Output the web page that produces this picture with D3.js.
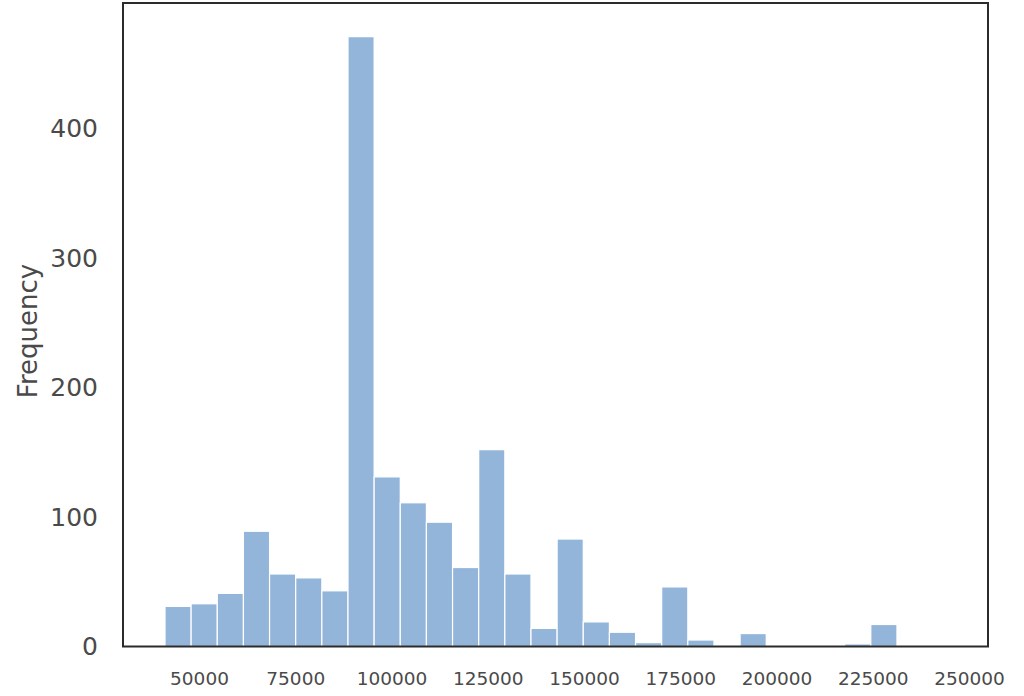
<!DOCTYPE html>
<html>
<head>
<meta charset="utf-8">
<script src="https://cdn.jsdelivr.net/npm/d3@7"></script>
<style>
  body { margin: 0; background: #fff; }
  text { font-family: "DejaVu Sans", sans-serif; }
</style>
</head>
<body>
<svg id="chart"></svg>
<script>
// histogram bin edges (salary) and counts per bin
var binEdges = [41169, 47959, 54749, 61539, 68329, 75119, 81909, 88699, 95489,
                102279, 109069, 115859, 122649, 129439, 136229, 143019, 149809,
                156599, 163389, 170179, 176969, 183759, 190549, 197339, 204129,
                210919, 217709, 224499, 231289];
var counts = [31, 33, 41, 89, 56, 53, 43, 471, 131, 111, 96, 61, 152, 56,
              14, 83, 19, 11, 3, 46, 5, 0, 10, 0, 0, 0, 2, 17];
var xTicks = [50000, 75000, 100000, 125000, 150000, 175000, 200000, 225000, 250000];
var yTicks = [0, 100, 200, 300, 400];

var width = 1024, height = 696;
// plot frame (window.top is reserved, so use plot* names)
var plotLeft = 123, plotRight = 988, plotTop = 3, plotBottom = 646.5;

var svg = d3.select("#chart")
    .attr("width", width)
    .attr("height", height);

var x = d3.scaleLinear().domain([30260, 254935]).range([plotLeft, plotRight]);
var y = d3.scaleLinear().domain([0, 497]).range([plotBottom, plotTop]);

// build bins from edges + counts
var bins = counts.map(function(c, i) {
    return { x0: binEdges[i], x1: binEdges[i + 1], n: c };
});

svg.append("g")
   .selectAll("rect")
   .data(bins.filter(function(d) { return d.n > 0; }))
   .enter().append("rect")
   .attr("x", function(d) { return x(d.x0); })
   .attr("width", function(d) { return x(d.x1) - x(d.x0); })
   .attr("y", function(d) { return y(d.n); })
   .attr("height", function(d) { return y(0) - y(d.n); })
   .attr("fill", "#93b5da")
   .attr("stroke", "#ffffff")
   .attr("stroke-width", 1.2);

// axes, no tick marks (seaborn white style)
var xAxis = svg.append("g")
   .attr("transform", "translate(0," + plotBottom + ")")
   .call(d3.axisBottom(x).tickValues(xTicks).tickSize(0).tickPadding(25).tickFormat(d3.format("d")));
xAxis.select(".domain").remove();
xAxis.selectAll("text")
   .attr("fill", "#4a4a4a")
   .style("font-size", "18.5px");

var yAxis = svg.append("g")
   .attr("transform", "translate(" + plotLeft + ",0)")
   .call(d3.axisLeft(y).tickValues(yTicks).tickSize(0).tickPadding(25));
yAxis.select(".domain").remove();
yAxis.selectAll("text")
   .attr("fill", "#4a4a4a")
   .style("font-size", "25px");

// frame
svg.append("rect")
   .attr("x", plotLeft)
   .attr("y", plotTop)
   .attr("width", plotRight - plotLeft)
   .attr("height", plotBottom - plotTop)
   .attr("fill", "none")
   .attr("stroke", "#2b2b2b")
   .attr("stroke-width", 2);

svg.append("text")
   .attr("transform", "translate(37,331) rotate(-90)")
   .attr("text-anchor", "middle")
   .attr("fill", "#4a4a4a")
   .style("font-size", "26px")
   .text("Frequency");
</script>
</body>
</html>
